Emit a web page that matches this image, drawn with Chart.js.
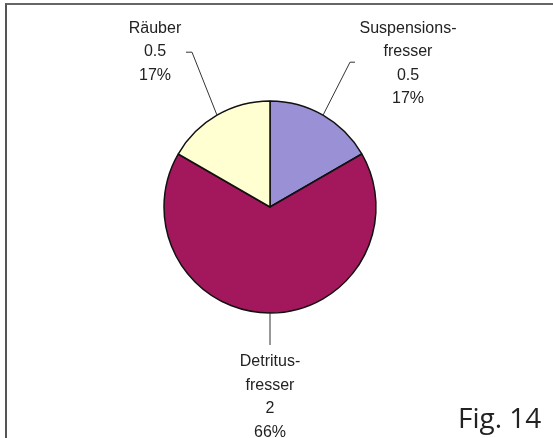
<!DOCTYPE html>
<html>
<head>
<meta charset="utf-8">
<script src="https://cdn.jsdelivr.net/npm/chart.js@4/dist/chart.umd.min.js"></script>
<style>
  body { margin: 0; background: #fff; }
  #wrap { position: relative; width: 553px; height: 438px; overflow: hidden; }
  #frame {
    position: absolute; left: 5px; top: 3px; width: 560px; height: 450px;
    border-left: 2px solid #555; border-top: 2px solid #666; pointer-events: none;
  }
  #fig {
    position: absolute; left: 458px; top: 403px; line-height: 28px;
    font-family: "Open Sans", "Noto Sans", sans-serif; font-size: 28px; color: #222;
  }
</style>
</head>
<body>
<div id="wrap">
  <canvas id="pieChart" width="553" height="438"></canvas>
  <div id="frame"></div>
  <div id="fig">Fig. 14</div>
</div>
<script>
// Feeding types
const categories = [['Suspensions-', 'fresser'], ['Detritus-', 'fresser'], ['Räuber']];
const values = [0.5, 2, 0.5];
const percentLabels = ['17%', '66%', '17%'];
const sliceColors = ['#9a90d6', '#a3185c', '#ffffd2'];

// where each label block sits relative to the point where its leader meets the pie
const labelPlacement = [
  { dx: 85, dy: -87, elbowDx: 27, elbowDy: -53, endDx: 32 },
  { dx: 0, dy: 49, elbowDx: 0, elbowDy: 32, endDx: 0 },
  { dx: -62, dy: -87, elbowDx: -25, elbowDy: -63, endDx: -31 }
];

const pieLabels = {
  id: 'pieLabels',
  afterDatasetsDraw(chart) {
    const ctx = chart.ctx;
    const arcs = chart.getDatasetMeta(0).data;
    ctx.save();
    ctx.font = '16px "Liberation Sans", Arial, sans-serif';
    ctx.fillStyle = '#222';
    ctx.textAlign = 'center';
    ctx.textBaseline = 'middle';
    arcs.forEach(function(arc, i) {
      const mid = (arc.startAngle + arc.endAngle) / 2;
      const ex = arc.x + Math.cos(mid) * arc.outerRadius;
      const ey = arc.y + Math.sin(mid) * arc.outerRadius;
      const p = labelPlacement[i];

      // leader line
      ctx.strokeStyle = '#333';
      ctx.lineWidth = 1;
      ctx.beginPath();
      ctx.moveTo(ex, ey);
      ctx.lineTo(ex + p.elbowDx, ey + p.elbowDy);
      ctx.lineTo(ex + p.endDx, ey + p.elbowDy);
      ctx.stroke();

      const lines = categories[i].concat([String(values[i]), percentLabels[i]]);
      lines.forEach(function(line, k) {
        ctx.fillText(line, ex + p.dx, ey + p.dy + k * 23.5);
      });
    });
    ctx.restore();
  }
};

new Chart(document.getElementById('pieChart'), {
  type: 'pie',
  data: {
    labels: categories.map(c => c.join('')),
    datasets: [{
      data: values,
      backgroundColor: sliceColors,
      borderColor: '#111',
      borderWidth: 1.5
    }]
  },
  options: {
    responsive: false,
    animation: false,
    radius: 106,
    layout: { padding: { left: 100, right: 113, top: 100, bottom: 124 } },
    plugins: {
      legend: { display: false },
      tooltip: { enabled: false }
    }
  },
  plugins: [pieLabels]
});
</script>
</body>
</html>
